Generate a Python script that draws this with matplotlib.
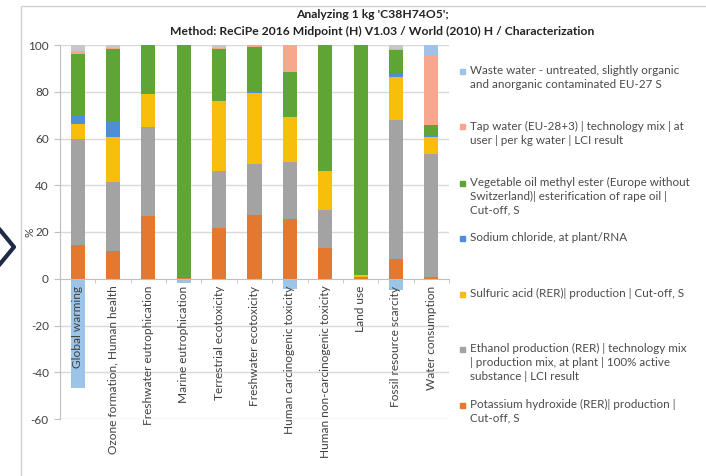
import matplotlib
matplotlib.use('Agg')
import matplotlib.pyplot as plt
from matplotlib.patches import Rectangle
from matplotlib.lines import Line2D
import numpy as np

plt.rcParams['font.family'] = ['Lato', 'DejaVu Sans']
plt.rcParams['axes.unicode_minus'] = False

categories = ['Global warming', 'Ozone formation, Human health', 'Freshwater eutrophication',
              'Marine eutrophication', 'Terrestrial ecotoxicity', 'Freshwater ecotoxicity',
              'Human carcinogenic toxicity', 'Human non-carcinogenic toxicity', 'Land use',
              'Fossil resource scarcity', 'Water consumption']

# contributions in %, stacked bottom -> top
koh = [14.5, 12.0, 27.0, 0.3, 21.7, 27.3, 25.6, 13.1, 0.8, 8.4, 0.8]
ethanol = [45.3, 29.3, 38.0, 0.0, 24.2, 21.7, 24.5, 16.4, 0.0, 59.6, 52.6]
sulfuric = [6.6, 19.5, 13.9, 0.0, 30.3, 30.6, 19.0, 16.4, 0.7, 18.5, 7.1]
nacl = [3.4, 6.9, 0.3, 0.0, 0.0, 0.2, 0.3, 0.0, 0.0, 1.5, 0.5]
veg_oil = [26.4, 30.6, 20.8, 99.7, 22.1, 19.4, 19.2, 54.1, 98.5, 9.9, 4.9]
tap_water = [1.3, 0.3, 0.0, 0.0, 0.5, 0.8, 11.4, 0.0, 0.0, 0.5, 29.8]
waste_water = [-46.7, 0.0, 0.0, -1.7, -0.5, 0.0, -4.4, 0.0, 0.0, -5.0, 4.3]
other = [2.5, 1.4, 0.0, 0.0, 1.2, 0.0, 0.0, 0.0, 0.0, 1.6, 0.0]

series = [
    (koh, '#E5782F', 'Potassium hydroxide (RER)| production |\nCut-off, S'),
    (ethanol, '#A3A3A3', 'Ethanol production (RER) | technology mix\n| production mix, at plant | 100% active\nsubstance | LCI result'),
    (sulfuric, '#F7BE0C', 'Sulfuric acid (RER)| production | Cut-off, S'),
    (nacl, '#4C8FD6', 'Sodium chloride, at plant/RNA'),
    (veg_oil, '#5FA535', 'Vegetable oil methyl ester (Europe without\nSwitzerland)| esterification of rape oil |\nCut-off, S'),
    (tap_water, '#F6A78E', 'Tap water (EU-28+3) | technology mix | at\nuser | per kg water | LCI result'),
    (waste_water, '#9CC3E8', 'Waste water - untreated, slightly organic\nand anorganic contaminated EU-27 S'),
    (other, '#C9C5CC', None),
]

fig = plt.figure(figsize=(7.06, 4.76), dpi=100)
ax = fig.add_axes([60/706, 1-419/476, (449-60)/706, (419-45)/476])

x = np.arange(len(categories))
pos = np.zeros(len(categories))
neg = np.zeros(len(categories))
for vals, col, lab in series:
    v = np.array(vals)
    bottom = np.where(v >= 0, pos, neg)
    ax.bar(x, v, 0.4, bottom=bottom, color=col, linewidth=0, zorder=1)
    pos = pos + np.clip(v, 0, None)
    neg = neg + np.clip(v, None, 0)

ax.set_xlim(-0.5, len(categories) - 0.5)
ax.set_ylim(-60, 100)
yticks = list(range(-60, 101, 20))
ax.set_yticks(yticks)
# gridlines kept under the bars, category labels stay on top of them
for yv in yticks:
    if yv != 0:
        ax.axhline(yv, color='#D9D9D9', linewidth=1, zorder=0)

for s in ['top', 'right']:
    ax.spines[s].set_visible(False)
ax.spines['left'].set_color('#BFBFBF')
ax.spines['bottom'].set_position(('data', 0))
ax.spines['bottom'].set_color('#BFBFBF')

ax.set_xticks(x)
ax.set_xticklabels(categories, rotation=90, ha='center', va='top', fontsize=8.6, color='#404040')
ax.set_xticks(np.arange(len(categories) + 1) - 0.5, minor=True)
ax.tick_params(axis='x', which='major', length=0, pad=5)
ax.tick_params(axis='x', which='minor', length=3, color='#BFBFBF')
ax.tick_params(axis='y', length=4, color='#BFBFBF', labelsize=8.5, labelcolor='#404040', pad=4)
ax.set_ylabel('%', fontsize=8.5, color='#404040')
ax.yaxis.set_label_coords(-0.064, 0.5)

fig.text(372/706, 1-15/476, "Analyzing 1 kg 'C38H74O5';", ha='center', va='center',
         fontsize=8.7, fontweight='bold', color='#222222')
fig.text(382/706, 1-31/476, 'Method: ReCiPe 2016 Midpoint (H) V1.03 / World (2010) H / Characterization',
         ha='center', va='center', fontsize=8.7, fontweight='bold', color='#222222')

# legend, top entry first, as laid out in the original
legend_y = [71.7, 127, 183, 238, 294, 349, 405]
entries = [s for s in series if s[2] is not None][::-1]
for (vals, col, lab), yy in zip(entries, legend_y):
    fig.add_artist(Rectangle((460/706, 1-(yy+2.5)/476), 5/706, 5/476, color=col,
                             transform=fig.transFigure))
    fig.text(470/706, 1-(yy-6.5)/476, lab, ha='left', va='top', fontsize=8.4,
             color='#4A4A4A', linespacing=1.35)

# outer chart frame and slide chevron
fig.add_artist(Rectangle((21/706, -0.02), 1.0, 1-6/476+0.02, fill=False,
                         edgecolor='#D0D0D0', linewidth=1, transform=fig.transFigure))
fig.add_artist(Line2D([0/706, 14/706, 0/706], [1-230/476, 1-247/476, 1-264/476],
                      color='#1F2A44', linewidth=3, transform=fig.transFigure))

fig.savefig('out.png', dpi=100)
